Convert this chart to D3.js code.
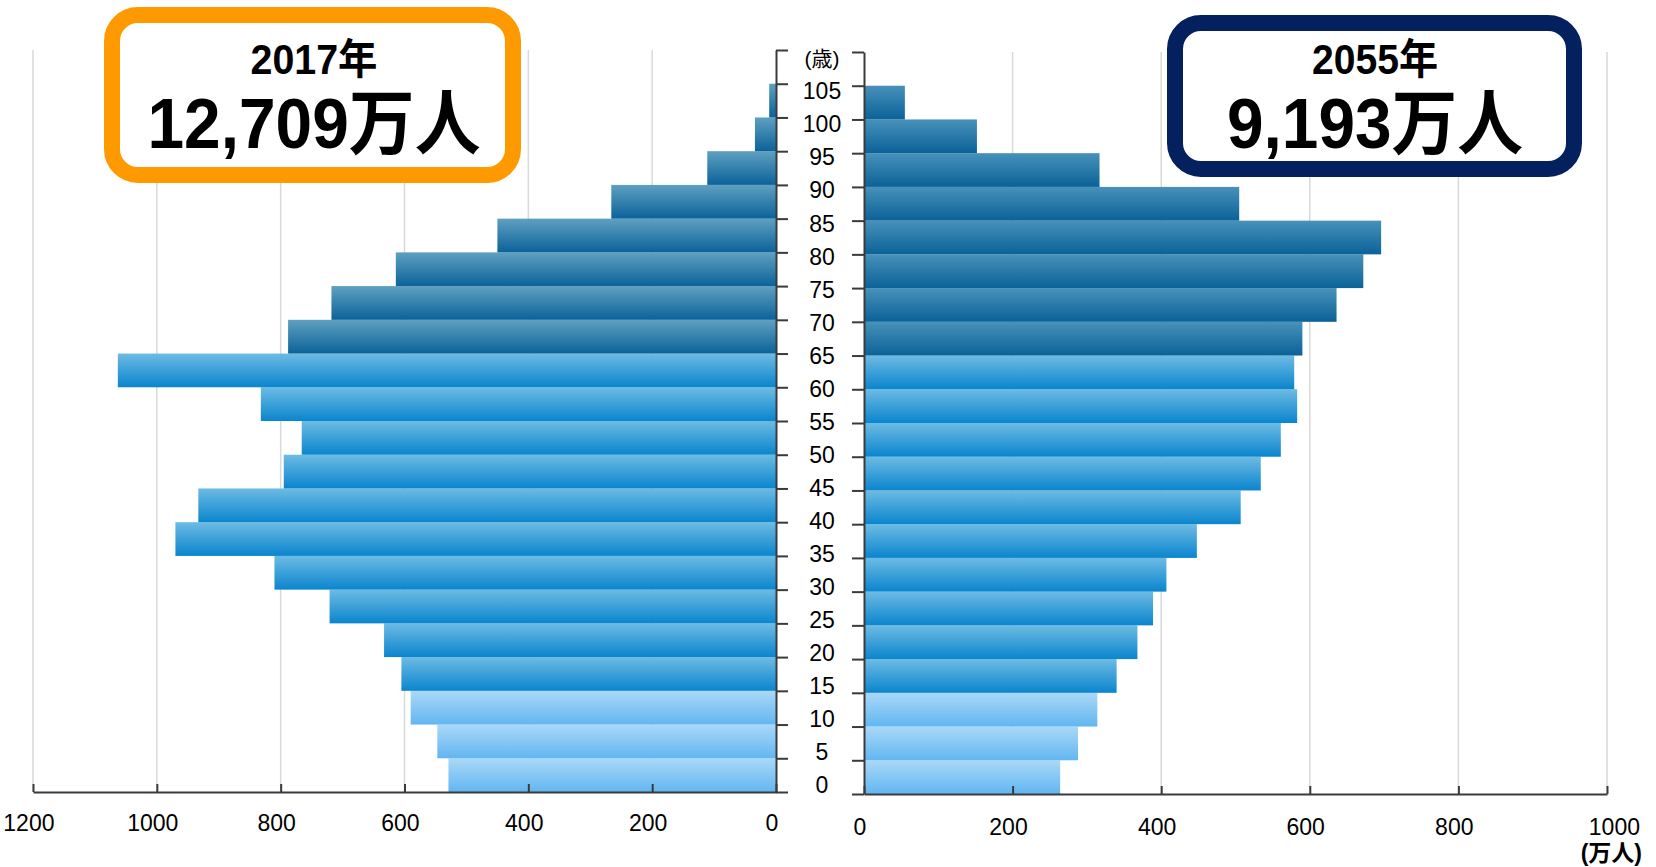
<!DOCTYPE html>
<html lang="ja">
<head>
<meta charset="utf-8">
<title>人口ピラミッド 2017年・2055年</title>
<script src="https://d3js.org/d3.v7.min.js"></script>
<style>
  body { margin: 0; background: #fff; }
  svg { display: block; font-family: "Liberation Sans", Arial, "Noto Sans CJK JP", sans-serif; }
  .grid line { stroke: #d9d9d9; stroke-width: 1.5px; }
  .axis path, .axis line { stroke: #3a3a3a; stroke-width: 2px; }
  .axis text { font-size: 23px; fill: #000; }
  .age { font-size: 23px; fill: #000; text-anchor: middle; }
</style>
</head>
<body>
<svg width="1656" height="867"></svg>
<script>
  // 5歳階級（下端の年齢）と人口（万人）
  var ages = [0, 5, 10, 15, 20, 25, 30, 35, 40, 45, 50, 55, 60, 65, 70, 75, 80, 85, 90, 95, 100];
  var pop2017 = [529, 547, 590, 605, 633, 721, 810, 970, 933, 795, 766, 832, 1063, 788, 718, 614, 450, 266, 111, 34, 11];
  var pop2055 = [264, 288, 314, 340, 368, 389, 407, 448, 507, 534, 561, 583, 579, 590, 636, 672, 696, 505, 317, 152, 55];
  var ageTicks = [0, 5, 10, 15, 20, 25, 30, 35, 40, 45, 50, 55, 60, 65, 70, 75, 80, 85, 90, 95, 100, 105];
  var leftTicks = [0, 200, 400, 600, 800, 1000, 1200];
  var rightTicks = [0, 200, 400, 600, 800, 1000];
  var titles = [
    { year: "2017年", total: "12,709万人" },
    { year: "2055年", total: "9,193万人" }
  ];

  var svg = d3.select("svg");
  var defs = svg.append("defs");

  function grad(id, top, bottom) {
    var g = defs.append("linearGradient")
      .attr("id", id)
      .attr("x1", 0).attr("y1", 0).attr("x2", 0).attr("y2", 1);
    g.append("stop").attr("offset", "0%").attr("stop-color", top);
    g.append("stop").attr("offset", "100%").attr("stop-color", bottom);
  }
  grad("young", "#aad8f8", "#62b6f1");
  grad("work", "#6dbbe3", "#0a85ce");
  grad("oldL", "#5fa0c1", "#0b6299");
  grad("oldR", "#4891ba", "#0a6298");

  function fillFor(age, side) {
    if (age < 15) return "url(#young)";
    if (age < 65) return "url(#work)";
    return side == "L" ? "url(#oldL)" : "url(#oldR)";
  }

  var xL = d3.scaleLinear().domain([0, 1200]).range([776, 33]);
  var xR = d3.scaleLinear().domain([0, 1000]).range([864, 1607]);
  var yL = d3.scaleLinear().domain([0, 110]).range([792, 50]);
  var yR = d3.scaleLinear().domain([0, 110]).range([794, 52]);
  var yLabel = d3.scaleLinear().domain([0, 110]).range([785, 58]);
  var fmt = d3.format("d");

  // gridlines
  svg.append("g").attr("class", "grid")
    .selectAll("line")
    .data(leftTicks.slice(1))
    .enter().append("line")
      .attr("x1", function(d) { return xL(d); })
      .attr("x2", function(d) { return xL(d); })
      .attr("y1", yL(110))
      .attr("y2", yL(0));

  svg.append("g").attr("class", "grid")
    .selectAll("line")
    .data(rightTicks.slice(1))
    .enter().append("line")
      .attr("x1", function(d) { return xR(d); })
      .attr("x2", function(d) { return xR(d); })
      .attr("y1", yR(110))
      .attr("y2", yR(0));

  // bars
  svg.append("g")
    .selectAll("rect")
    .data(ages)
    .enter().append("rect")
      .attr("x", function(d, i) { return xL(pop2017[i]); })
      .attr("width", function(d, i) { return xL(0) - xL(pop2017[i]); })
      .attr("y", function(d) { return yL(d + 5); })
      .attr("height", function(d) { return yL(d) - yL(d + 5); })
      .attr("fill", function(d) { return fillFor(d, "L"); });

  svg.append("g")
    .selectAll("rect")
    .data(ages)
    .enter().append("rect")
      .attr("x", xR(0))
      .attr("width", function(d, i) { return xR(pop2055[i]) - xR(0); })
      .attr("y", function(d) { return yR(d + 5); })
      .attr("height", function(d) { return yR(d) - yR(d + 5); })
      .attr("fill", function(d) { return fillFor(d, "R"); });

  // x axes (ticks point up, labels below)
  svg.append("g")
    .attr("class", "axis")
    .attr("transform", "translate(0," + yL(0) + ")")
    .call(d3.axisBottom(xL).tickValues(leftTicks).tickFormat(fmt)
      .tickSizeInner(-8).tickSizeOuter(0).tickPadding(23))
    .selectAll("text").attr("dx", "-0.2em");

  svg.append("g")
    .attr("class", "axis")
    .attr("transform", "translate(0," + yR(0) + ")")
    .call(d3.axisBottom(xR).tickValues(rightTicks).tickFormat(fmt)
      .tickSizeInner(-8).tickSizeOuter(0).tickPadding(25))
    .selectAll("text").attr("dx", function(d) { return d == 1000 ? "0.3em" : "-0.2em"; });

  // age axes
  svg.append("g")
    .attr("class", "axis")
    .attr("transform", "translate(" + xL(0) + ",0)")
    .call(d3.axisRight(yL).tickValues(ageTicks.concat([110])).tickSizeInner(12).tickSizeOuter(0).tickFormat(""));

  svg.append("g")
    .attr("class", "axis")
    .attr("transform", "translate(" + xR(0) + ",0)")
    .call(d3.axisLeft(yR).tickValues(ageTicks.concat([110])).tickSizeInner(12).tickSizeOuter(0).tickFormat(""));

  var ageX = (xL(0) + xR(0)) / 2 + 2;
  svg.append("g")
    .selectAll("text")
    .data(ageTicks)
    .enter().append("text")
      .attr("class", "age")
      .attr("x", ageX)
      .attr("y", function(d) { return yLabel(d); })
      .attr("dy", "0.36em")
      .text(function(d) { return d; });

  svg.append("text")
    .attr("class", "age")
    .attr("x", ageX)
    .attr("y", yLabel(110))
    .attr("dy", "0.36em")
    .style("font-size", "21px")
    .text("(歳)");

  svg.append("text")
    .attr("x", 1642)
    .attr("y", 861)
    .attr("text-anchor", "end")
    .attr("font-size", 23)
    .attr("font-weight", "bold")
    .text("(万人)");

  // year boxes
  var boxes = [
    { x: 112, y: 15, w: 401, h: 160, color: "#ff9900", cx: 314, t1: 127, t2: 333 },
    { x: 1175, y: 23, w: 399, h: 146, color: "#03215f", cx: 1375, t1: 126, t2: 296 }
  ];

  boxes.forEach(function(b, i) {
    svg.append("rect")
      .attr("x", b.x).attr("y", b.y)
      .attr("width", b.w).attr("height", b.h)
      .attr("rx", 26).attr("ry", 26)
      .attr("fill", "#fff")
      .attr("stroke", b.color)
      .attr("stroke-width", 16);

    svg.append("text")
      .attr("x", b.cx).attr("y", 74)
      .attr("text-anchor", "middle")
      .attr("font-size", 42)
      .attr("font-weight", "bold")
      .attr("textLength", b.t1)
      .attr("lengthAdjust", "spacingAndGlyphs")
      .text(titles[i].year);

    svg.append("text")
      .attr("x", b.cx).attr("y", 148)
      .attr("text-anchor", "middle")
      .attr("font-size", 71)
      .attr("font-weight", "bold")
      .attr("textLength", b.t2)
      .attr("lengthAdjust", "spacingAndGlyphs")
      .text(titles[i].total);
  });
</script>
</body>
</html>
